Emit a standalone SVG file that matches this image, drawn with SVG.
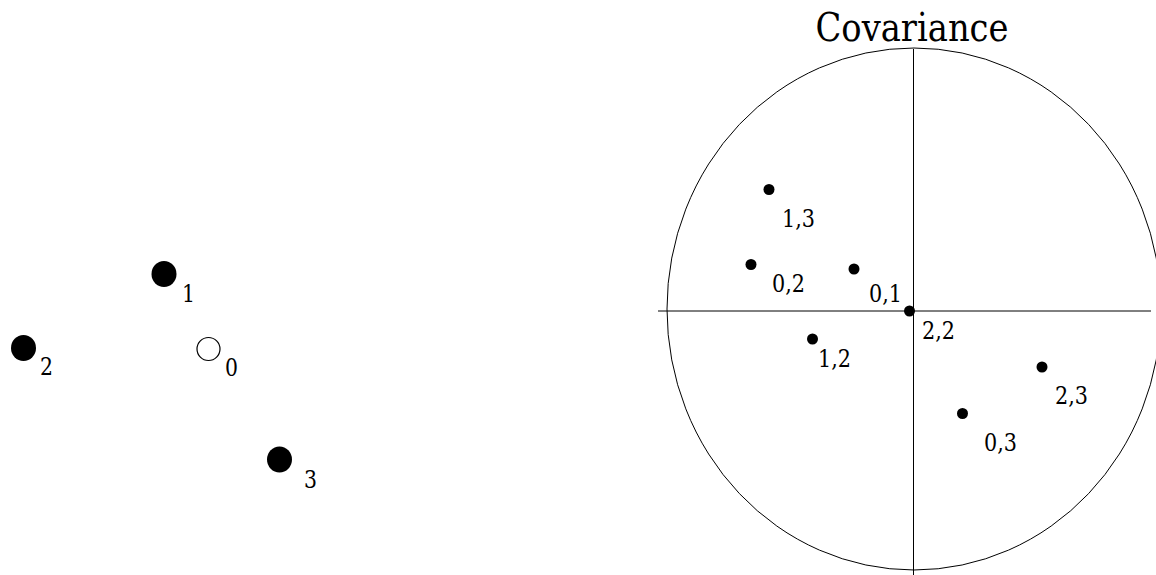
<svg xmlns="http://www.w3.org/2000/svg" width="1156" height="575" viewBox="0 0 1156 575">
<style>
.lbl{font-size:24px}
.title{font-size:40px}
.big{fill:#000}
.open{fill:#fff;stroke:#000;stroke-width:1.2}
.dot{fill:#000}
.ax{stroke:#000;stroke-width:1;fill:none}
</style>
<rect width="1156" height="575" fill="#fff"/>
<g font-family="'DejaVu Serif', serif" fill="#000">
<g id="points">
  <g id="p1"><ellipse class="big" cx="164" cy="274" rx="12.5" ry="13"/><text class="lbl" x="182" y="302" textLength="13" lengthAdjust="spacingAndGlyphs">1</text></g>
  <g id="p2"><ellipse class="big" cx="23.5" cy="348" rx="12.5" ry="13"/><text class="lbl" x="40" y="375" textLength="13" lengthAdjust="spacingAndGlyphs">2</text></g>
  <g id="p0"><circle class="open" cx="208.5" cy="349" r="11.5"/><text class="lbl" x="225" y="376" textLength="13" lengthAdjust="spacingAndGlyphs">0</text></g>
  <g id="p3"><ellipse class="big" cx="279.5" cy="459.5" rx="12.5" ry="13"/><text class="lbl" x="304" y="488" textLength="13" lengthAdjust="spacingAndGlyphs">3</text></g>
</g>
<g id="covariance">
  <text class="title" x="815.5" y="41" textLength="193" lengthAdjust="spacingAndGlyphs">Covariance</text>
  <ellipse class="ax" cx="914" cy="309" rx="247" ry="261"/>
  <g id="connectors">
    <line class="ax" x1="913.5" y1="49" x2="913.5" y2="575"/>
    <line class="ax" x1="658" y1="311" x2="1151" y2="311"/>
  </g>
  <g id="c13"><circle class="dot" cx="769" cy="189.5" r="5.5"/><text class="lbl" x="782" y="227" textLength="33" lengthAdjust="spacingAndGlyphs">1,3</text></g>
  <g id="c02"><circle class="dot" cx="751" cy="264.5" r="5.5"/><text class="lbl" x="772" y="292" textLength="33" lengthAdjust="spacingAndGlyphs">0,2</text></g>
  <g id="c01"><circle class="dot" cx="854" cy="269" r="5.5"/><text class="lbl" x="869" y="302" textLength="33" lengthAdjust="spacingAndGlyphs">0,1</text></g>
  <g id="c22"><circle class="dot" cx="909.5" cy="311" r="5.5"/><text class="lbl" x="922" y="339" textLength="33" lengthAdjust="spacingAndGlyphs">2,2</text></g>
  <g id="c12"><circle class="dot" cx="812.5" cy="339" r="5.5"/><text class="lbl" x="818" y="367" textLength="33" lengthAdjust="spacingAndGlyphs">1,2</text></g>
  <g id="c23"><circle class="dot" cx="1042" cy="367" r="5.5"/><text class="lbl" x="1055" y="404" textLength="33" lengthAdjust="spacingAndGlyphs">2,3</text></g>
  <g id="c03"><circle class="dot" cx="962.5" cy="413.5" r="5.5"/><text class="lbl" x="984" y="451" textLength="33" lengthAdjust="spacingAndGlyphs">0,3</text></g>
</g>
</g>
</svg>
